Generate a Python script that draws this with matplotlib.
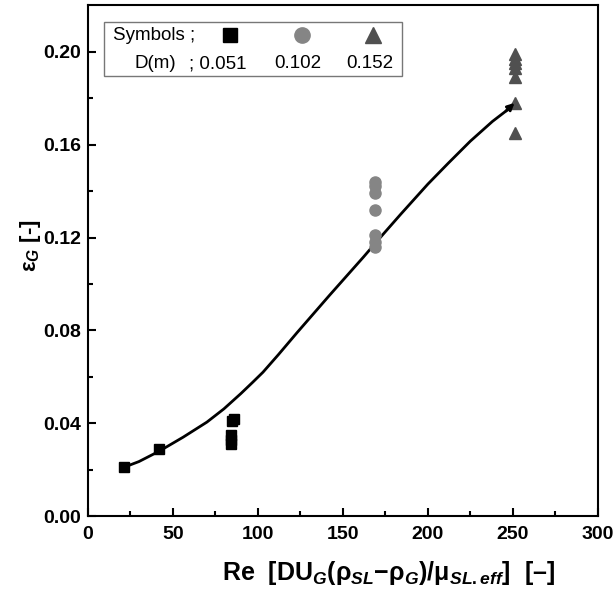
import matplotlib
matplotlib.use("Agg")
import matplotlib.pyplot as plt
from matplotlib.patches import Rectangle

plt.rcParams['font.family'] = ['Liberation Sans', 'DejaVu Sans']
plt.rcParams['mathtext.fontset'] = 'custom'
plt.rcParams['mathtext.rm'] = 'Liberation Sans:bold'
plt.rcParams['mathtext.it'] = 'Liberation Sans:bold:italic'
plt.rcParams['mathtext.bf'] = 'Liberation Sans:bold'

# data
sq_x = [21, 42, 84, 84, 84, 85, 86]
sq_y = [0.021, 0.029, 0.031, 0.033, 0.035, 0.041, 0.042]
ci_x = [169, 169, 169, 169, 169, 169, 169]
ci_y = [0.144, 0.142, 0.139, 0.132, 0.121, 0.118, 0.116]
tr_x = [251, 251, 251, 251, 251, 251, 251]
tr_y = [0.199, 0.197, 0.195, 0.193, 0.189, 0.178, 0.165]
fit_x = [21, 30, 42, 56, 70, 80, 90, 97, 103, 112, 123, 142, 162, 172, 184, 200, 212, 225, 238, 246, 251]
fit_y = [0.021, 0.0235, 0.028, 0.034, 0.0405, 0.0462, 0.0528, 0.0577, 0.0620, 0.0695, 0.079,
         0.095, 0.1115, 0.120, 0.130, 0.143, 0.152, 0.1615, 0.170, 0.1745, 0.178]
diam_labels = ['0.051', '0.102', '0.152']

fig = plt.figure(figsize=(6.15, 5.96), dpi=100)
ax = fig.add_axes([0.143, 0.134, 0.829, 0.857])

ax.plot(fit_x[:-1], fit_y[:-1], color='k', lw=2)
ax.annotate('', xy=(fit_x[-1], fit_y[-1]), xytext=(fit_x[-2], fit_y[-2]),
            arrowprops=dict(arrowstyle='-|>', color='k', lw=2, mutation_scale=10, shrinkA=0, shrinkB=0))
ax.plot(sq_x, sq_y, 's', color='k', ms=7, ls='none')
ax.plot(ci_x, ci_y, 'o', color='#858585', ms=8, ls='none')
ax.plot(tr_x, tr_y, '^', color='#505050', ms=8.5, ls='none')

ax.set_xlim(0, 300)
ax.set_ylim(0, 0.22)
ax.set_xticks([0, 50, 100, 150, 200, 250, 300])
ax.set_xticks([25, 75, 125, 175, 225, 275], minor=True)
ax.set_yticks([0.00, 0.04, 0.08, 0.12, 0.16, 0.20])
ax.set_yticks([0.02, 0.06, 0.10, 0.14, 0.18], minor=True)
ax.set_yticklabels(['0.00', '0.04', '0.08', '0.12', '0.16', '0.20'])
ax.tick_params(which='both', direction='in', width=1.5, top=False, right=False, labelsize=14)
ax.tick_params(axis='x', which='major', pad=7)
ax.tick_params(axis='y', which='major', pad=5)
ax.tick_params(which='major', length=6)
ax.tick_params(which='minor', length=3.5)
for lab in ax.get_xticklabels() + ax.get_yticklabels():
    lab.set_fontweight('bold')
for s in ax.spines.values():
    s.set_linewidth(1.5)

ax.set_xlabel(r'Re  $\left[\mathrm{DU}_{G}(\mathrm{\rho}_{SL}\mathrm{-\rho}_{G})/\mathrm{\mu}_{SL.eff}\right]$  [–]',
              fontsize=18, fontweight='bold')
ax.xaxis.set_label_coords(0.59, -0.083)
ax.set_ylabel(r'$\mathrm{\epsilon}_{G}$ [-]', fontsize=16, fontweight='bold')
ax.yaxis.set_label_coords(-0.088, 0.53)

# legend box
ax.add_patch(Rectangle((0.031, 0.861), 0.585, 0.106, transform=ax.transAxes,
                       fill=False, edgecolor='#777777', lw=1))
ax.text(0.049, 0.941, 'Symbols ;', transform=ax.transAxes, fontsize=13.5, va='center')
ax.plot([0.278], [0.941], 's', color='k', ms=10, transform=ax.transAxes)
ax.plot([0.42], [0.941], 'o', color='#858585', ms=11, transform=ax.transAxes)
ax.plot([0.559], [0.941], '^', color='#505050', ms=12, transform=ax.transAxes)
ax.text(0.092, 0.886, 'D(m)', transform=ax.transAxes, fontsize=13.5, va='center')
ax.text(0.198, 0.886, '; ' + diam_labels[0], transform=ax.transAxes, fontsize=13.5, va='center')
ax.text(0.412, 0.886, diam_labels[1], transform=ax.transAxes, fontsize=13.5, va='center', ha='center')
ax.text(0.553, 0.886, diam_labels[2], transform=ax.transAxes, fontsize=13.5, va='center', ha='center')

fig.savefig('out.png', dpi=100)
